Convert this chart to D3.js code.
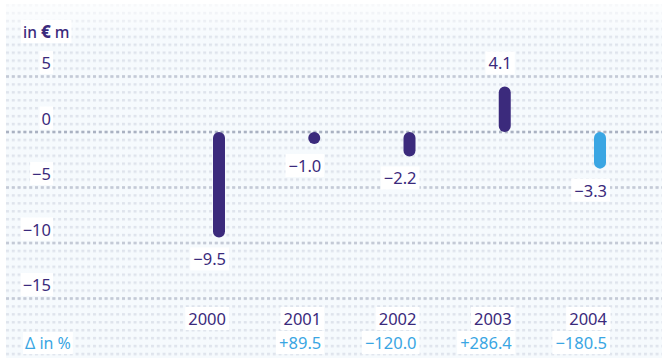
<!DOCTYPE html>
<html>
<head>
<meta charset="utf-8">
<script src="https://cdn.jsdelivr.net/npm/d3@7"></script>
<style>
  body { margin: 0; background: #fff; }
  svg { display: block; font-family: "Noto Sans", "Open Sans", sans-serif; }
</style>
</head>
<body>
<div id="chart"></div>
<script>
var width = 666;
var height = 358;

// data
var years = ["2000", "2001", "2002", "2003", "2004"];
var values = [-9.5, -1.0, -2.2, 4.1, -3.3];
var changes = ["", "+89.5", "\u2212120.0", "+286.4", "\u2212180.5"];
var highlight = [false, false, false, false, true];
var yTicks = [5, 0, -5, -10, -15];

var dark = "#3b2a7c";
var light = "#3aa6e3";
var barWidth = 12;
var fs = 16.5;

var svg = d3
  .select("#chart")
  .append("svg")
  .attr("width", width)
  .attr("height", height);

var x = d3.scalePoint().domain(years).range([219, 600]);
var y = d3.scaleLinear().domain([-15, 5]).range([298.5, 76.5]);

// dotted background
var rowStep = (y(0) - y(5)) / 7;
var colStep = 5.8;
var defs = svg.append("defs");
var pat = defs
  .append("pattern")
  .attr("id", "dots")
  .attr("patternUnits", "userSpaceOnUse")
  .attr("width", colStep)
  .attr("height", rowStep)
  .attr("x", 6)
  .attr("y", y(0) - 1.25);
pat
  .append("rect")
  .attr("width", 3)
  .attr("height", 2.5)
  .attr("fill", "#d9dfe9");

var fade = defs
  .append("linearGradient")
  .attr("id", "fade")
  .attr("x1", 0)
  .attr("y1", 0)
  .attr("x2", 0)
  .attr("y2", 1);
fade.append("stop").attr("offset", 0).attr("stop-color", "#fff").attr("stop-opacity", 0.8);
fade.append("stop").attr("offset", 0.1).attr("stop-color", "#fff").attr("stop-opacity", 0.15);
fade.append("stop").attr("offset", 1).attr("stop-color", "#fff").attr("stop-opacity", 0.15);

svg
  .append("rect")
  .attr("x", 6)
  .attr("y", 4)
  .attr("width", 656)
  .attr("height", 354)
  .attr("fill", "#f4f9fd");
svg
  .append("rect")
  .attr("x", 6)
  .attr("y", 4)
  .attr("width", 656)
  .attr("height", 354)
  .attr("fill", "url(#dots)");
svg
  .append("rect")
  .attr("x", 6)
  .attr("y", 4)
  .attr("width", 656)
  .attr("height", 354)
  .attr("fill", "url(#fade)");

// gridlines: darker dotted rows
svg
  .selectAll(".grid")
  .data(yTicks)
  .enter()
  .append("line")
  .attr("class", "grid")
  .attr("x1", 6)
  .attr("x2", 662)
  .attr("y1", function(d) { return y(d); })
  .attr("y2", function(d) { return y(d); })
  .attr("stroke", function(d) { return d === 0 ? "#aab2c2" : "#c4cad6"; })
  .attr("stroke-width", 2.5)
  .attr("stroke-dasharray", "3 " + (colStep - 3));

// helper: text with white box behind it
function boxed(g, pad) {
  g.each(function() {
    var t = d3.select(this);
    var b = this.getBBox();
    d3.select(this.parentNode)
      .insert("rect", function() { return t.node(); })
      .attr("x", b.x - pad)
      .attr("y", b.y)
      .attr("width", b.width + pad * 2)
      .attr("height", b.height)
      .attr("fill", "#fff");
  });
}

// y tick labels
var yl = svg
  .append("g")
  .selectAll("text")
  .data(yTicks)
  .enter()
  .append("text")
  .attr("x", 51)
  .attr("y", function(d) { return y(d) - 7.5; })
  .attr("text-anchor", "end")
  .attr("font-size", fs)
  .attr("fill", dark)
  .text(function(d) { return d < 0 ? "\u2212" + Math.abs(d) : d; });
boxed(yl, 2);

// unit label
var unit = svg
  .append("text")
  .attr("x", 23)
  .attr("y", 38)
  .attr("font-size", 15.5)
  .attr("font-weight", 500)
  .attr("fill", dark);
unit.append("tspan").text("in ");
unit.append("tspan").attr("font-weight", 800).attr("font-size", 17).text("\u20ac");
unit.append("tspan").text(" m");
boxed(unit, 2);

// bars
var data = years.map(function(d, i) {
  return { year: d, value: values[i], change: changes[i], hi: highlight[i] };
});

svg
  .selectAll(".bar")
  .data(data)
  .enter()
  .append("rect")
  .attr("class", "bar")
  .attr("x", function(d) { return x(d.year) - barWidth / 2; })
  .attr("y", function(d) { return d.value >= 0 ? y(d.value) : y(0); })
  .attr("width", barWidth)
  .attr("height", function(d) { return Math.max(barWidth, Math.abs(y(d.value) - y(0))); })
  .attr("rx", barWidth / 2)
  .attr("fill", function(d) { return d.hi ? light : dark; });

// value labels
var vl = svg
  .append("g")
  .selectAll("text")
  .data(data)
  .enter()
  .append("text")
  .attr("x", function(d) { return x(d.year) + 7; })
  .attr("y", function(d) {
    if (d.value >= 0) return y(d.value) - 17;
    return y(0) + Math.max(barWidth, y(d.value) - y(0)) + 28;
  })
  .attr("text-anchor", "end")
  .attr("font-size", fs)
  .attr("fill", dark)
  .text(function(d) {
    return d.value < 0 ? "\u2212" + Math.abs(d.value).toFixed(1) : d.value.toFixed(1);
  });
boxed(vl, 3);

// year labels
var xl = svg
  .append("g")
  .selectAll("text")
  .data(data)
  .enter()
  .append("text")
  .attr("x", function(d) { return x(d.year) + 7; })
  .attr("y", 325)
  .attr("text-anchor", "end")
  .attr("font-size", fs)
  .attr("fill", dark)
  .text(function(d) { return d.year; });
boxed(xl, 3);

// change row
var cl = svg
  .append("g")
  .selectAll("text")
  .data(data.filter(function(d) { return d.change !== ""; }))
  .enter()
  .append("text")
  .attr("x", function(d) { return x(d.year) + 7; })
  .attr("y", 349)
  .attr("text-anchor", "end")
  .attr("font-size", fs)
  .attr("fill", light)
  .text(function(d) { return d.change; });
boxed(cl, 3);

var delta = svg
  .append("text")
  .attr("x", 25)
  .attr("y", 349)
  .attr("font-size", 16)
  .attr("fill", light)
  .text("\u0394 in %");
boxed(delta, 2);
</script>
</body>
</html>
